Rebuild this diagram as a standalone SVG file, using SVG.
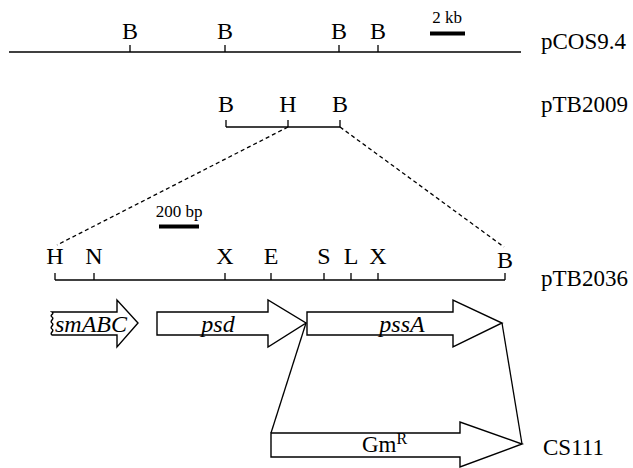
<svg xmlns="http://www.w3.org/2000/svg" width="633" height="468" viewBox="0 0 633 468" font-family="'Liberation Serif', 'Times New Roman', 'DejaVu Serif', serif">
<style>
text{font-family:'Liberation Serif','Times New Roman','DejaVu Serif',serif;fill:#000}
.site{font-size:24px;text-anchor:middle}
.name{font-size:23px}
.gene{font-size:24px;font-style:italic;text-anchor:middle}
.scale{font-size:17px;text-anchor:middle}
.map{stroke:#000;stroke-width:1.6;fill:none}
.tick{stroke:#000;stroke-width:1.3;fill:none}
.bar{stroke:#000;stroke-width:4;fill:none}
.dash{stroke:#000;stroke-width:1.3;stroke-dasharray:4 3;fill:none}
.arrow{fill:#fff;stroke:#000;stroke-width:1.4;stroke-linejoin:miter}
.link{stroke:#000;stroke-width:1.3;fill:none}
</style>
<rect width="633" height="468" fill="#fff"/>

<g id="pCOS9.4">
<line class="map" x1="9" y1="52" x2="521" y2="52"/>
<path class="tick" d="M130,45V52M225,45V52M339,45V52M378,45V52"/>
<text class="site" x="130" y="39">B</text>
<text class="site" x="225" y="39">B</text>
<text class="site" x="339" y="39">B</text>
<text class="site" x="378" y="39">B</text>
<text class="name" x="541" y="49">pCOS9.4</text>
</g>

<g id="scale-2kb">
<line class="bar" x1="430" y1="33.5" x2="465" y2="33.5"/>
<text class="scale" x="447" y="23">2 kb</text>
</g>

<g id="pTB2009">
<line class="map" x1="226" y1="127" x2="340" y2="127"/>
<path class="tick" d="M226,120V127M288,120V127M340,120V127"/>
<text class="site" x="226" y="112">B</text>
<text class="site" x="288" y="112">H</text>
<text class="site" x="340" y="112">B</text>
<text class="name" x="541" y="112">pTB2009</text>
</g>

<g id="scale-200bp">
<line class="bar" x1="159" y1="226.5" x2="199" y2="226.5"/>
<text class="scale" x="179" y="217">200 bp</text>
</g>

<g id="pTB2036">
<line class="map" x1="55" y1="280" x2="505" y2="280"/>
<path class="tick" d="M55,273V280M94,273V280M225,273V280M271,273V280M324,273V280M351,273V280M378,273V280M505,273V280"/>
<text class="site" x="55" y="264">H</text>
<text class="site" x="94" y="264">N</text>
<text class="site" x="225" y="264">X</text>
<text class="site" x="271" y="264">E</text>
<text class="site" x="324" y="264">S</text>
<text class="site" x="351" y="264">L</text>
<text class="site" x="378" y="264">X</text>
<text class="site" x="505" y="268">B</text>
<text class="name" x="541" y="286">pTB2036</text>
</g>

<g id="smABC">
<path class="arrow" d="M52,312 L117,312 L117,300 L138,323 L117,347 L117,335 L52,335 C49,333 55,331 52,329 C49,327 55,325 52,323 C49,321 55,319 52,317 C49,315 55,314 52,312 Z"/>
<text class="gene" x="91" y="332">smABC</text>
</g>

<g id="psd">
<path class="arrow" d="M157,312 L268,312 L268,300 L306,323 L268,347 L268,335 L157,335 Z"/>
<text class="gene" x="218" y="332">psd</text>
</g>

<g id="pssA">
<path class="arrow" d="M307,312 L453,312 L453,300 L502,323 L453,347 L453,335 L307,335 Z"/>
<text class="gene" x="402" y="332">pssA</text>
</g>

<g id="GmR">
<path class="arrow" d="M271,433 L460,433 L460,422 L522,444 L460,467 L460,457 L271,457 Z"/>
<text x="362" y="452" style="font-size:23px">Gm<tspan dy="-8" style="font-size:16px">R</tspan></text>
</g>

<g id="CS111">
<text class="name" x="543" y="455">CS111</text>
</g>

<g id="connectors">
<line class="dash" x1="288" y1="127" x2="57" y2="245"/>
<line class="dash" x1="340" y1="127" x2="504" y2="247"/>
<line class="link" x1="306" y1="323" x2="271" y2="433"/>
<line class="link" x1="502" y1="323" x2="522" y2="444"/>
</g>
</svg>
